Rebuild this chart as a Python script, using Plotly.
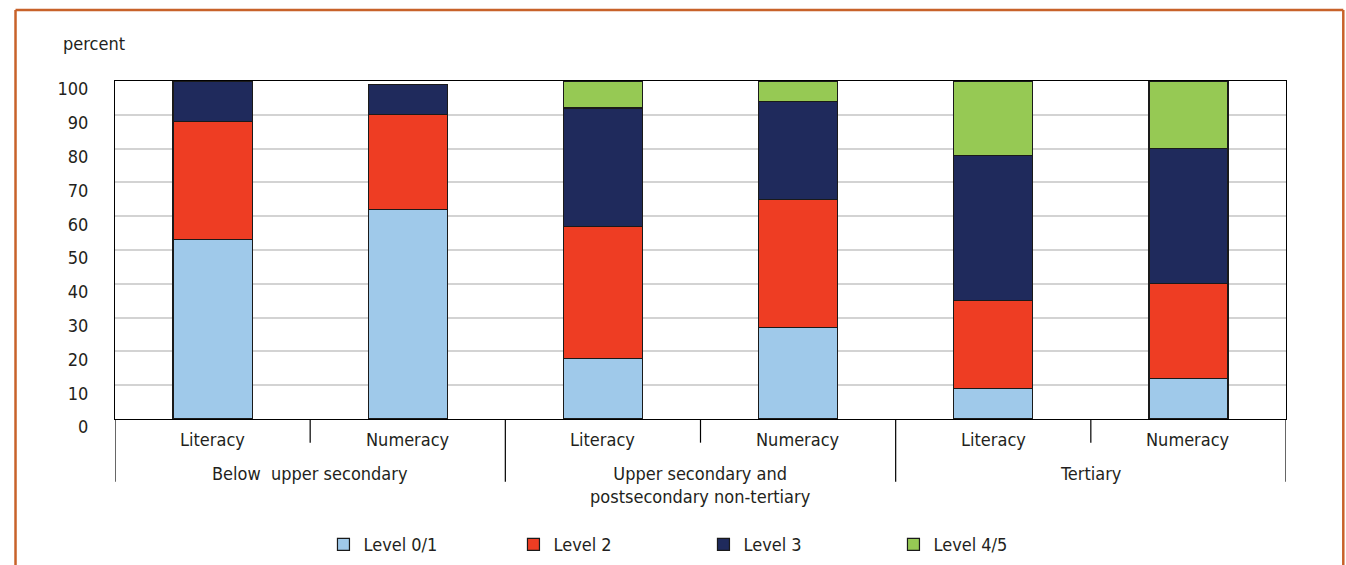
import plotly.graph_objects as go

# Skill domains within each education level
skills = ["Literacy", "Numeracy", "Literacy", "Numeracy", "Literacy", "Numeracy"]
education_groups = ["Below  upper secondary",
                    "Upper secondary and<br>postsecondary non-tertiary",
                    "Tertiary"]
y_ticks = [0, 10, 20, 30, 40, 50, 60, 70, 80, 90, 100]

# Share of adults (percent) at each proficiency level
level_01 = [53, 62, 18, 27, 9, 12]
level_2 = [35, 28, 39, 38, 26, 28]
level_3 = [12, 9, 35, 29, 43, 40]
level_45 = [0, 0, 8, 6, 22, 20]

series = [
    ("Level 0/1", level_01, "#9FC9EA"),
    ("Level 2", level_2, "#EE3D23"),
    ("Level 3", level_3, "#1F2A5C"),
    ("Level 4/5", level_45, "#96C954"),
]

FONT = "Liberation Sans Narrow, DejaVu Sans Condensed, Arial Narrow, sans-serif"
TEXT = "#231F20"
FS = 18

W, H = 1346, 565
L, R, T, B = 114.5, 60.3, 81, 145.7
plot_w = W - L - R
plot_h = H - T - B


def px_x(p):
    return (p - L) / plot_w


def px_y(p):
    return (H - B - p) / plot_h


xs = list(range(len(skills)))

fig = go.Figure()
for name, vals, color in series:
    fig.add_trace(go.Bar(
        x=xs, y=vals, name=name, width=0.405,
        marker=dict(color=color, line=dict(color="#1a1a1a", width=1.2)),
    ))

annotations = []
# Skill labels under each bar
for i, s in enumerate(skills):
    annotations.append(dict(x=i, y=px_y(440), xref="x", yref="paper", text=s,
                            showarrow=False, yanchor="middle",
                            font=dict(family=FONT, size=FS, color=TEXT)))
# Education group labels
for g, label in enumerate(education_groups):
    annotations.append(dict(x=2 * g + 0.5, y=px_y(461), xref="paper" if False else "x",
                            yref="paper", text=label, showarrow=False, yanchor="top",
                            font=dict(family=FONT, size=FS, color=TEXT)))
annotations.append(dict(x=px_x(60), y=px_y(43), xref="paper", yref="paper",
                        text="percent", showarrow=False, xanchor="left",
                        yanchor="middle", font=dict(family=FONT, size=FS, color=TEXT)))

shapes = []
# Dividers between skill columns and education groups
for k in range(len(skills) + 1):
    edge = k - 0.5
    bottom = px_y(482) if k % 2 == 0 else px_y(443)
    shapes.append(dict(type="line", xref="x", yref="paper", x0=edge, x1=edge,
                       y0=0, y1=bottom, line=dict(color="#000000", width=1.2)))
# Orange frame around the figure
fl, fr, ft, fb = px_x(15), px_x(1343), px_y(10), px_y(600)
frame = dict(color="#C8622A", width=2.5)
shapes.append(dict(type="line", xref="paper", yref="paper", x0=fl, x1=fl, y0=fb, y1=ft, line=frame))
shapes.append(dict(type="line", xref="paper", yref="paper", x0=fl, x1=fr, y0=ft, y1=ft, line=frame))
shapes.append(dict(type="line", xref="paper", yref="paper", x0=fr, x1=fr, y0=ft, y1=fb, line=frame))

fig.update_layout(
    width=W, height=H,
    margin=dict(l=L, r=R, t=T, b=B, autoexpand=False),
    paper_bgcolor="white", plot_bgcolor="white",
    barmode="stack",
    font=dict(family=FONT, size=FS, color=TEXT),
    xaxis=dict(range=[-0.5, len(skills) - 0.5], showticklabels=False, showgrid=False,
               zeroline=False, showline=True, linecolor="#000000", linewidth=1.2,
               mirror=True, fixedrange=True),
    yaxis=dict(range=[0, 100], tickvals=y_ticks, showgrid=True, gridcolor="#D3D3D3",
               gridwidth=2, zeroline=False, showline=True, linecolor="#000000",
               linewidth=1.2, mirror=True, ticks="", ticklabelstandoff=22,
               ticklabelshift=8, tickfont=dict(family=FONT, size=FS, color=TEXT),
               fixedrange=True),
    legend=dict(orientation="h", x=px_x(323), y=px_y(545), xanchor="left",
                yanchor="middle", entrywidth=145, entrywidthmode="pixels",
                font=dict(family=FONT, size=FS, color=TEXT), traceorder="normal"),
    annotations=annotations,
    shapes=shapes,
)

fig.write_html("out.html")
